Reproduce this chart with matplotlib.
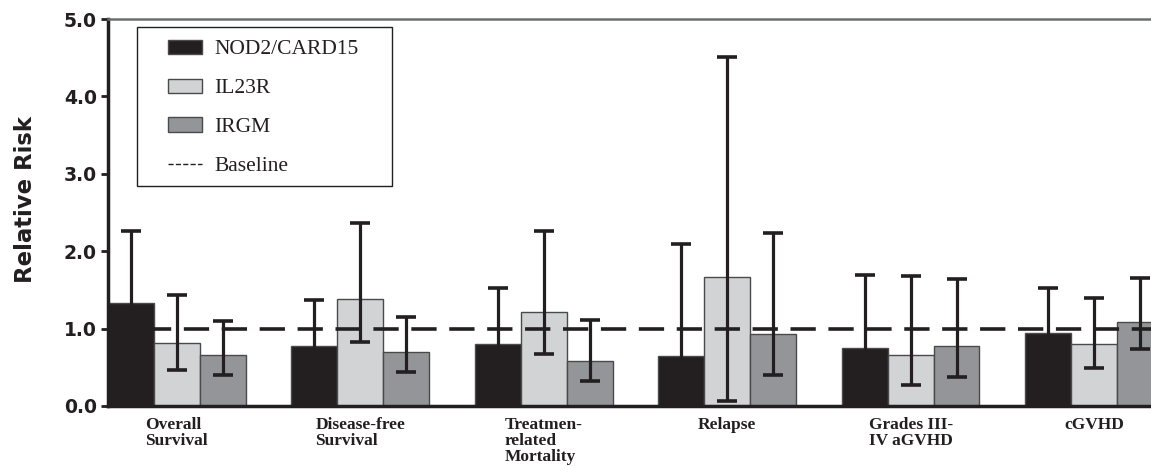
import numpy as np
import matplotlib.pyplot as plt
from matplotlib.patches import Patch, Rectangle
from matplotlib.lines import Line2D

# Datos
outcomes = ['Overall\nSurvival', 'Disease-free\nSurvival', 'Treatmen-\nrelated\nMortality',
            'Relapse', 'Grades III-\nIV aGVHD', 'cGVHD']
genes = ['NOD2/CARD15', 'IL23R', 'IRGM']

nod2 = [1.33, 0.78, 0.80, 0.65, 0.745, 0.94]
nod2_lo = [0.78, 0.44, 0.42, 0.20, 0.33, 0.58]
nod2_hi = [2.26, 1.37, 1.53, 2.09, 1.69, 1.53]

il23r = [0.82, 1.38, 1.21, 1.67, 0.66, 0.80]
il23r_lo = [0.47, 0.83, 0.67, 0.06, 0.275, 0.49]
il23r_hi = [1.44, 2.36, 2.26, 4.51, 1.68, 1.39]

irgm = [0.66, 0.70, 0.58, 0.93, 0.78, 1.09]
irgm_lo = [0.40, 0.435, 0.32, 0.40, 0.38, 0.74]
irgm_hi = [1.10, 1.15, 1.11, 2.23, 1.64, 1.65]

baseline = 1.0

colores = ['#231F20', '#D1D3D4', '#939598']

fig = plt.figure(figsize=(11.51, 4.66), dpi=100)
ax = fig.add_axes([0.0938, 0.1288, 0.9062, 0.8302])

x = np.arange(len(outcomes))
w = 0.25
series = [(nod2, nod2_lo, nod2_hi), (il23r, il23r_lo, il23r_hi), (irgm, irgm_lo, irgm_hi)]
for k, (vals, lo, hi) in enumerate(series):
    vals = np.array(vals)
    yerr = [vals - np.array(lo), np.array(hi) - vals]
    ax.bar(x + (k - 1) * w, vals, w, color=colores[k], edgecolor='#4a4a4a', linewidth=1.0,
           zorder=2)
    ax.errorbar(x + (k - 1) * w, vals, yerr=yerr, fmt='none', ecolor='#231F20',
                elinewidth=2.3, capsize=7.2, capthick=2.6, zorder=3)

# Línea base
ax.axhline(baseline, color='#231F20', linestyle=(0, (7, 3.5)), linewidth=2.6, zorder=4)

ax.set_xlim(-0.375, 5.31)
ax.set_ylim(0, 5.0)
ax.set_yticks([0, 1, 2, 3, 4, 5])
ax.set_yticklabels(['0.0', '1.0', '2.0', '3.0', '4.0', '5.0'],
                   fontsize=13.5, fontweight='bold', family='DejaVu Sans', color='#231F20')
ax.set_xticks(x)
ax.set_xticklabels(outcomes, fontsize=12.5, fontweight='bold', family='Liberation Serif',
                   color='#231F20', multialignment='left', va='top', linespacing=1.0)
ax.tick_params(axis='x', length=0, pad=8)
ax.tick_params(axis='y', length=5, width=2, pad=3, color='#231F20')
ax.set_ylabel('Relative Risk', fontsize=16.4, fontweight='bold', family='DejaVu Sans',
              color='#231F20')
ax.yaxis.set_label_coords(-0.068, 0.535)

ax.spines['right'].set_visible(False)
ax.spines['left'].set_linewidth(2.5)
ax.spines['left'].set_color('#231F20')
ax.spines['bottom'].set_linewidth(2.5)
ax.spines['bottom'].set_color('#231F20')
ax.spines['top'].set_linewidth(1.8)
ax.spines['top'].set_color('#6d6e71')

# Leyenda (marco dibujado aparte)
ax.add_patch(Rectangle((0.0278, 0.5685), 0.2445, 0.4105, transform=ax.transAxes,
                       facecolor='white', edgecolor='#231F20', linewidth=1.0, zorder=5))
handles = [Patch(facecolor=colores[k], edgecolor='#4a4a4a', linewidth=1.0) for k in range(3)]
handles.append(Line2D([0], [0], color='#231F20', linestyle='--', linewidth=1.0))
leg = ax.legend(handles, genes + ['Baseline'], loc='upper left', bbox_to_anchor=(0.0575, 0.947),
                prop={'family': 'Liberation Serif', 'size': 15.5}, frameon=False,
                labelspacing=0.89, handlelength=1.58, handleheight=0.65,
                handletextpad=0.56, borderpad=0, borderaxespad=0)
leg.set_zorder(6)
for t in leg.get_texts():
    t.set_color('#231F20')

plt.savefig('out.png', dpi=100)
